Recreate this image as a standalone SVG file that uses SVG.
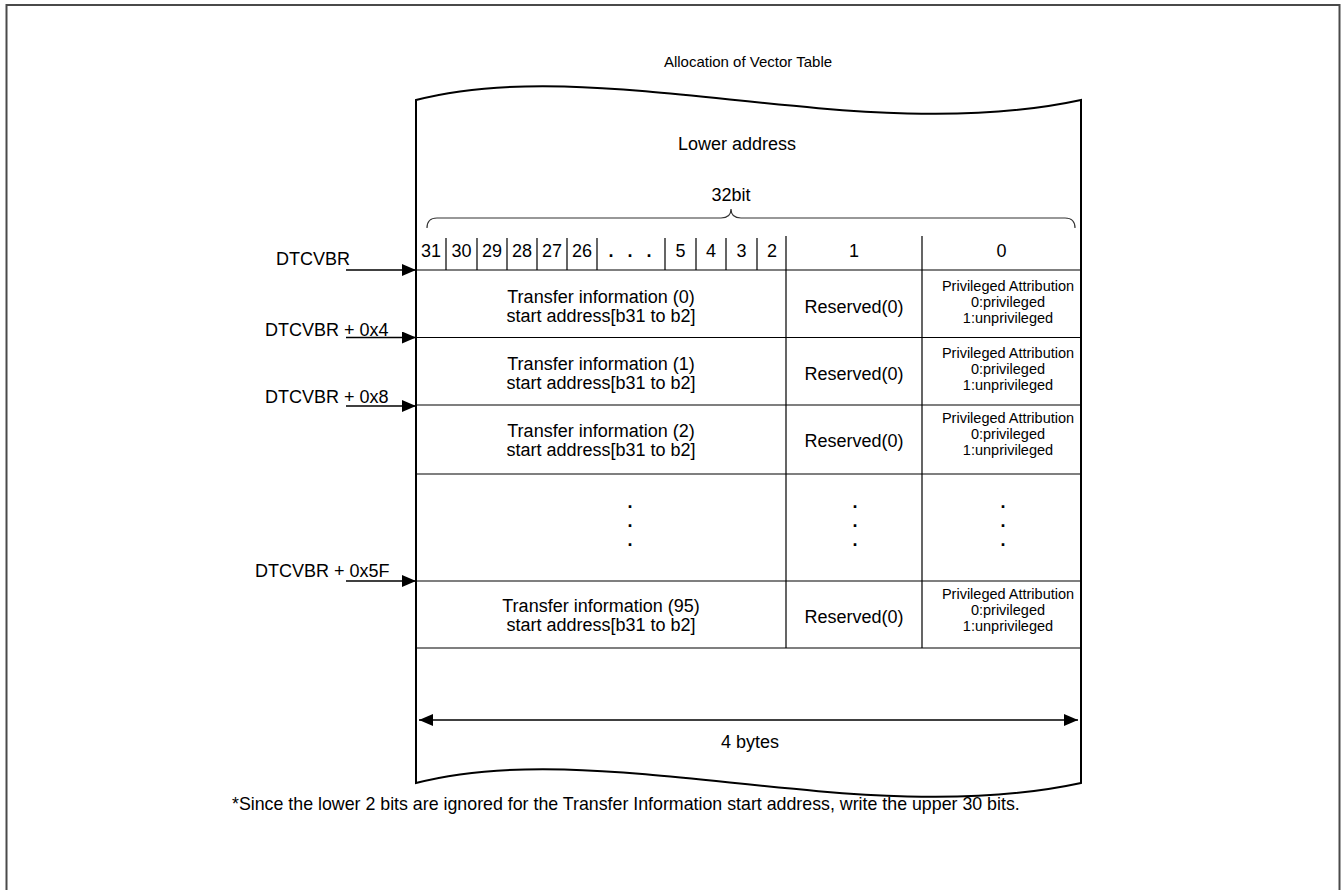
<svg xmlns="http://www.w3.org/2000/svg" width="1343" height="890" viewBox="0 0 1343 890">
<defs>
<style>
text{font-family:"Liberation Sans",Arial,Helvetica,sans-serif;fill:#000}
.t{font-size:18px;text-anchor:middle}
.s{font-size:14.5px;text-anchor:middle}
.l{font-size:18px}
.dot{font-size:18px;font-weight:bold;text-anchor:middle}
.grid{stroke:#000;stroke-width:1.2;fill:none}
.arr{stroke:#000;stroke-width:1.3;fill:none}
</style>
<marker id="ah" viewBox="0 0 14 12" refX="14" refY="6" markerWidth="14" markerHeight="12" markerUnits="userSpaceOnUse" orient="auto">
<path d="M0,0 L14,6 L0,12 Z" fill="#000"/>
</marker>
<marker id="ahs" viewBox="0 0 14 12" refX="0" refY="6" markerWidth="14" markerHeight="12" markerUnits="userSpaceOnUse" orient="auto">
<path d="M14,0 L0,6 L14,12 Z" fill="#000"/>
</marker>
</defs>
<rect x="0" y="0" width="1343" height="890" fill="#fff"/>
<rect id="frame" x="6.5" y="5" width="1333" height="900" fill="none" stroke="#4a4a4a" stroke-width="2"/>
<text id="title" class="s" x="748" y="67" style="font-size:15px">Allocation of Vector Table</text>
<g id="tape">
<path d="M416,100 C600,52 860,148 1081,100 L1081,783 C860,831 600,735 416,783 Z" fill="#fff" stroke="#000" stroke-width="2"/>
</g>
<g id="header">
<text class="t" x="737" y="150">Lower address</text>
<text class="t" x="731" y="201">32bit</text>
<path d="M427,228 Q427,218 437,218 L721,218 Q731,218 731,209 Q731,218 741,218 L1065,218 Q1075,218 1075,228" fill="none" stroke="#333" stroke-width="1.2"/>
</g>
<g id="bits">
<path class="grid" d="M446,238 V270 M477,238 V270 M507,238 V270 M537,238 V270 M567,238 V270 M597,238 V270 M665,238 V270 M696,238 V270 M726,238 V270 M757,238 V270"/>
<text class="t" x="431" y="257">31</text>
<text class="t" x="461.5" y="257">30</text>
<text class="t" x="492" y="257">29</text>
<text class="t" x="522" y="257">28</text>
<text class="t" x="552" y="257">27</text>
<text class="t" x="582" y="257">26</text>
<text class="dot" x="611 630 649" y="257">...</text>
<text class="t" x="680.5" y="257">5</text>
<text class="t" x="711" y="257">4</text>
<text class="t" x="741.5" y="257">3</text>
<text class="t" x="772" y="257">2</text>
<text class="t" x="854" y="257">1</text>
<text class="t" x="1001.5" y="257">0</text>
</g>
<g id="grid">
<path class="grid" d="M416,270 H1081 M416,337.5 H1081 M416,405 H1081 M416,474 H1081 M416,581 H1081 M416,648 H1081 M786,236 V648 M922,236 V648"/>
</g>
<g id="row0">
<text class="t" x="601" y="302.5">Transfer information (0)</text>
<text class="t" x="601" y="321.5">start address[b31 to b2]</text>
<text class="t" x="854" y="312.5">Reserved(0)</text>
<text class="s" x="1008" y="290.5">Privileged Attribution</text>
<text class="s" x="1008" y="306.5">0:privileged</text>
<text class="s" x="1008" y="322.5">1:unprivileged</text>
</g>
<g id="row1">
<text class="t" x="601" y="369.5">Transfer information (1)</text>
<text class="t" x="601" y="388.5">start address[b31 to b2]</text>
<text class="t" x="854" y="379.5">Reserved(0)</text>
<text class="s" x="1008" y="357.5">Privileged Attribution</text>
<text class="s" x="1008" y="373.5">0:privileged</text>
<text class="s" x="1008" y="389.5">1:unprivileged</text>
</g>
<g id="row2">
<text class="t" x="601" y="436.5">Transfer information (2)</text>
<text class="t" x="601" y="455.5">start address[b31 to b2]</text>
<text class="t" x="854" y="446.5">Reserved(0)</text>
<text class="s" x="1008" y="423">Privileged Attribution</text>
<text class="s" x="1008" y="439">0:privileged</text>
<text class="s" x="1008" y="455">1:unprivileged</text>
</g>
<g id="rowdots">
<text class="dot" x="630" y="507.5">.</text>
<text class="dot" x="630" y="526.5">.</text>
<text class="dot" x="630" y="545.5">.</text>
<text class="dot" x="855" y="507.5">.</text>
<text class="dot" x="855" y="526.5">.</text>
<text class="dot" x="855" y="545.5">.</text>
<text class="dot" x="1003" y="507.5">.</text>
<text class="dot" x="1003" y="526.5">.</text>
<text class="dot" x="1003" y="545.5">.</text>
</g>
<g id="row95">
<text class="t" x="601" y="612">Transfer information (95)</text>
<text class="t" x="601" y="631">start address[b31 to b2]</text>
<text class="t" x="854" y="622.5">Reserved(0)</text>
<text class="s" x="1008" y="598.5">Privileged Attribution</text>
<text class="s" x="1008" y="614.5">0:privileged</text>
<text class="s" x="1008" y="630.5">1:unprivileged</text>
</g>
<g id="labels">
<text class="l" x="276" y="265">DTCVBR</text>
<text class="l" x="265" y="336">DTCVBR + 0x4</text>
<text class="l" x="265" y="403">DTCVBR + 0x8</text>
<text class="l" x="255" y="577">DTCVBR + 0x5F</text>
</g>
<g id="connectors">
<line class="arr" x1="346" y1="270" x2="416" y2="270" marker-end="url(#ah)"/>
<line class="arr" x1="346" y1="337.5" x2="416" y2="337.5" marker-end="url(#ah)"/>
<line class="arr" x1="346" y1="406" x2="416" y2="406" marker-end="url(#ah)"/>
<line class="arr" x1="346" y1="581" x2="416" y2="581" marker-end="url(#ah)"/>
<line class="arr" x1="419" y1="720" x2="1078" y2="720" marker-start="url(#ahs)" marker-end="url(#ah)"/>
</g>
<text id="bytes" class="t" x="750" y="748">4 bytes</text>
<text id="note" class="l" x="232" y="810" style="font-size:17.8px">*Since the lower 2 bits are ignored for the Transfer Information start address, write the upper 30 bits.</text>
</svg>
